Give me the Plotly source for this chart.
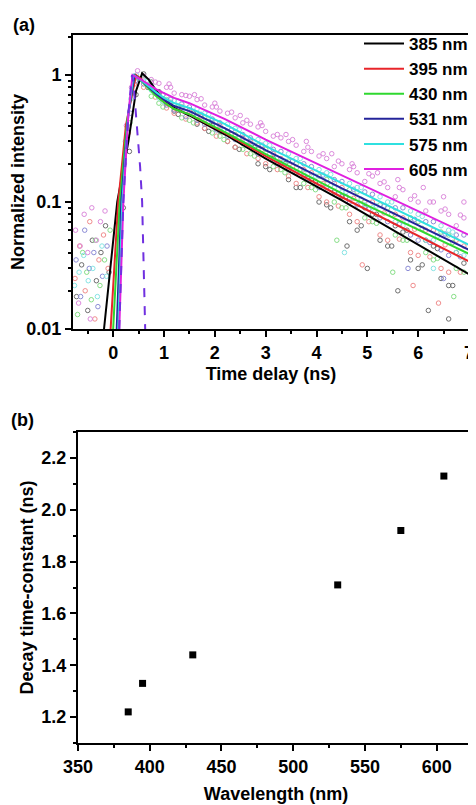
import plotly.graph_objects as go

# ---- panel (a): fitted decay curves ----
names = ['385 nm', '395 nm', '430 nm', '531 nm', '575 nm', '605 nm']
line_colors = ['#000000', '#E8252A', '#2FD82F', '#24249A', '#2FE0E0', '#E020E0']
dot_colors = ['#6E6E6E', '#F08C8C', '#86DE86', '#8C8CD6', '#86E4E4', '#DC8ADC']

fit_t = [
    [-0.18, 0.08, 0.3, 0.45, 0.57, 0.7, 0.85, 1.0, 1.2, 1.5, 2.2, 3.0, 4.5, 7.0],
    [-0.05, 0.1, 0.25, 0.45, 0.55, 0.7, 0.85, 1.0, 1.2, 1.5, 2.2, 3.0, 4.5, 7.0],
    [0.0, 0.13, 0.28, 0.42, 0.55, 0.7, 0.85, 1.0, 1.2, 1.5, 2.2, 3.0, 4.5, 7.0],
    [0.07, 0.16, 0.3, 0.42, 0.55, 0.7, 0.85, 1.0, 1.2, 1.5, 2.2, 3.0, 4.5, 7.0],
    [0.1, 0.18, 0.3, 0.4, 0.55, 0.7, 0.85, 1.0, 1.2, 1.5, 2.2, 3.0, 4.5, 7.0],
    [0.12, 0.2, 0.3, 0.38, 0.55, 0.7, 0.85, 1.0, 1.2, 1.5, 2.2, 3.0, 4.5, 7.0],
]
fit_v = [
    [0.01, 0.1, 0.3, 0.75, 1.03, 0.92, 0.75, 0.64, 0.55, 0.48, 0.34, 0.22, 0.103, 0.027],
    [0.01, 0.1, 0.4, 1.0, 0.93, 0.8, 0.69, 0.61, 0.54, 0.49, 0.35, 0.23, 0.109, 0.034],
    [0.01, 0.1, 0.45, 1.0, 0.9, 0.78, 0.68, 0.61, 0.54, 0.49, 0.355, 0.238, 0.117, 0.039],
    [0.01, 0.1, 0.5, 1.0, 0.91, 0.8, 0.71, 0.64, 0.57, 0.52, 0.38, 0.256, 0.128, 0.042],
    [0.01, 0.1, 0.5, 1.0, 0.91, 0.81, 0.73, 0.66, 0.6, 0.55, 0.41, 0.275, 0.14, 0.046],
    [0.01, 0.1, 0.5, 1.0, 0.92, 0.84, 0.77, 0.72, 0.66, 0.6, 0.45, 0.31, 0.162, 0.055],
]

# instrument response (dashed)
irf_t = [0.12, 0.2, 0.3, 0.37, 0.4, 0.47, 0.53, 0.57, 0.63]
irf_v = [0.01, 0.1, 0.5, 1.0, 0.86, 0.4, 0.19, 0.1, 0.01]

# measured points (hand-read sample of the noisy data)
# sampling times of the decay part
grid_a = [0.6, 0.9, 1.2, 1.5, 1.8, 2.1, 2.4, 2.7, 3.0, 3.3, 3.6, 3.9, 4.2, 4.5, 4.8, 5.1, 5.4, 5.7,
          6.0, 6.3, 6.6, 6.9]
grid_b = [0.75, 1.05, 1.35, 1.65, 1.95, 2.25, 2.55, 2.85, 3.15, 3.45, 3.75, 4.05, 4.35, 4.65, 4.95,
          5.25, 5.55, 5.85, 6.15, 6.45, 6.75]
grid_c1 = [0.68, 0.98, 1.28, 1.58, 1.88, 2.18, 2.48, 2.78, 3.08, 3.38, 3.68, 3.98, 4.28, 4.58, 4.88,
           5.18, 5.48, 5.78, 6.08, 6.38, 6.68]
grid_c2 = [0.83, 1.13, 1.43, 1.73, 2.03, 2.33, 2.63, 2.93, 3.23, 3.53, 3.83, 4.13, 4.43, 4.73, 5.03,
           5.33, 5.63, 5.93, 6.23, 6.53, 6.83]

dots_a = [
    [1.02, 0.74, 0.52, 0.5, 0.38, 0.36, 0.27, 0.27, 0.19, 0.2, 0.13, 0.15, 0.095, 0.11, 0.06, 0.08, 0.045,
     0.058, 0.03, 0.045, 0.022, 0.033],
    [0.8, 0.7, 0.5, 0.53, 0.38, 0.4, 0.27, 0.3, 0.2, 0.22, 0.14, 0.17, 0.1, 0.13, 0.07, 0.1, 0.05, 0.075,
     0.038, 0.06, 0.028, 0.045],
    [0.92, 0.6, 0.58, 0.44, 0.46, 0.33, 0.34, 0.24, 0.26, 0.18, 0.2, 0.13, 0.15, 0.09, 0.12, 0.07, 0.09,
     0.05, 0.07, 0.035, 0.055, 0.028],
    [0.85, 0.72, 0.53, 0.56, 0.41, 0.42, 0.31, 0.32, 0.23, 0.25, 0.17, 0.19, 0.13, 0.145, 0.095, 0.115,
     0.07, 0.09, 0.05, 0.07, 0.038, 0.055],
    [0.96, 0.66, 0.63, 0.5, 0.5, 0.38, 0.38, 0.29, 0.29, 0.21, 0.22, 0.16, 0.17, 0.12, 0.13, 0.09, 0.1,
     0.065, 0.08, 0.05, 0.06, 0.038],
    [0.98, 0.86, 0.72, 0.68, 0.58, 0.52, 0.46, 0.41, 0.36, 0.32, 0.28, 0.25, 0.22, 0.2, 0.17, 0.16, 0.13,
     0.125, 0.1, 0.1, 0.08, 0.075],
]
dots_b = [
    [0.88, 0.6, 0.55, 0.41, 0.4, 0.3, 0.29, 0.2, 0.22, 0.15, 0.16, 0.1, 0.12, 0.07, 0.09, 0.05, 0.065,
     0.035, 0.05, 0.025, 0.04],
    [0.8, 0.55, 0.56, 0.42, 0.42, 0.3, 0.32, 0.22, 0.24, 0.16, 0.18, 0.11, 0.14, 0.08, 0.1, 0.055, 0.08,
     0.04, 0.06, 0.03, 0.05],
    [0.68, 0.64, 0.46, 0.48, 0.35, 0.36, 0.26, 0.28, 0.19, 0.21, 0.14, 0.16, 0.1, 0.125, 0.075, 0.095,
     0.055, 0.075, 0.04, 0.058, 0.03],
    [0.82, 0.58, 0.59, 0.44, 0.45, 0.33, 0.34, 0.24, 0.26, 0.18, 0.2, 0.13, 0.15, 0.1, 0.12, 0.075, 0.09,
     0.055, 0.07, 0.042, 0.055],
    [0.76, 0.68, 0.54, 0.54, 0.42, 0.41, 0.31, 0.31, 0.23, 0.24, 0.17, 0.18, 0.13, 0.14, 0.095, 0.11, 0.07,
     0.085, 0.05, 0.065, 0.04],
    [0.92, 0.8, 0.7, 0.64, 0.56, 0.5, 0.42, 0.39, 0.33, 0.3, 0.25, 0.23, 0.19, 0.18, 0.145, 0.14, 0.11,
     0.105, 0.085, 0.085, 0.065],
]
# third sample: 385/430/575 nm on grid_c1, 395/531/605 nm on grid_c2
dots_c = [
    [0.8, 0.7, 0.49, 0.5, 0.36, 0.37, 0.26, 0.27, 0.18, 0.2, 0.13, 0.145, 0.09, 0.11, 0.065, 0.08, 0.045,
     0.06, 0.032, 0.043, 0.022],
    [0.67, 0.61, 0.45, 0.47, 0.33, 0.34, 0.24, 0.26, 0.18, 0.19, 0.13, 0.14, 0.093, 0.107, 0.07, 0.082,
     0.051, 0.061, 0.037, 0.046, 0.028],
    [0.84, 0.56, 0.55, 0.42, 0.43, 0.31, 0.32, 0.23, 0.24, 0.17, 0.18, 0.125, 0.135, 0.09, 0.105, 0.068,
     0.08, 0.05, 0.062, 0.036, 0.048],
    [0.73, 0.64, 0.47, 0.49, 0.37, 0.37, 0.28, 0.28, 0.2, 0.21, 0.153, 0.163, 0.116, 0.126, 0.088, 0.093,
     0.067, 0.073, 0.048, 0.056, 0.037],
    [0.9, 0.62, 0.62, 0.49, 0.49, 0.37, 0.37, 0.28, 0.28, 0.21, 0.22, 0.16, 0.165, 0.12, 0.13, 0.093, 0.1,
     0.07, 0.077, 0.054, 0.058],
    [0.88, 0.8, 0.69, 0.65, 0.56, 0.51, 0.44, 0.4, 0.34, 0.31, 0.27, 0.24, 0.21, 0.19, 0.167, 0.144, 0.13,
     0.112, 0.1, 0.088, 0.079],
]
# background before time zero, points on the rising edge and stray low/high points
extra_t = [
    [-0.72, -0.62, -0.5, -0.41, -0.33, -0.24, -0.15, -0.08, 0.2, 0.32, 0.45, 4.6, 5.0, 5.6, 6.2, 6.6],
    [-0.75, -0.66, -0.55, -0.46, -0.36, -0.28, -0.19, -0.1, 0.15, 0.3, 0.42, 4.9, 5.9, 6.4],
    [-0.7, -0.6, -0.52, -0.43, -0.35, -0.26, -0.17, -0.06, 0.18, 0.33, 0.47, 4.4, 5.5, 6.7],
    [-0.73, -0.64, -0.56, -0.47, -0.38, -0.3, -0.21, -0.12, 0.22, 0.34, 0.44, 5.8, 6.5],
    [-0.76, -0.67, -0.58, -0.49, -0.4, -0.31, -0.22, -0.13, 0.24, 0.35, 0.46, 4.55, 6.3],
    [-0.74, -0.65, -0.57, -0.5, -0.42, -0.33, -0.25, -0.16, -0.45, -0.68, 0.26, 0.36, 0.48,
     1.1, 1.6, 2.0, 2.5, 2.9, 3.4, 3.8, 4.3, 4.7, 5.2, 5.6, 6.1, 6.5, 6.9],
]
extra_v = [
    [0.018, 0.032, 0.014, 0.05, 0.024, 0.04, 0.065, 0.028, 0.09, 0.25, 0.7, 0.045, 0.03, 0.02, 0.014, 0.012],
    [0.025, 0.045, 0.02, 0.07, 0.012, 0.035, 0.055, 0.03, 0.08, 0.35, 0.85, 0.032, 0.022, 0.016],
    [0.013, 0.04, 0.028, 0.017, 0.05, 0.022, 0.035, 0.06, 0.12, 0.42, 0.95, 0.05, 0.028, 0.018],
    [0.035, 0.018, 0.06, 0.03, 0.04, 0.015, 0.026, 0.045, 0.2, 0.5, 0.9, 0.03, 0.025],
    [0.022, 0.028, 0.038, 0.024, 0.03, 0.018, 0.045, 0.026, 0.3, 0.65, 1.0, 0.04, 0.03],
    [0.06, 0.045, 0.08, 0.04, 0.09, 0.05, 0.07, 0.085, 0.012, 0.016, 0.4, 0.8, 1.08,
     0.85, 0.7, 0.6, 0.48, 0.42, 0.34, 0.3, 0.24, 0.2, 0.17, 0.15, 0.13, 0.11, 0.1],
]

# ---- panel (b): decay time constants ----
wavelength = [385, 395, 430, 531, 575, 605]
tau = [1.22, 1.33, 1.44, 1.71, 1.92, 2.13]

# tick labels
ticks_a_x = [0, 1, 2, 3, 4, 5, 6, 7]
ticks_a_y = [0.01, 0.1, 1]
ticks_b_x = [350, 400, 450, 500, 550, 600]
ticks_b_y = [1.2, 1.4, 1.6, 1.8, 2.0, 2.2]


def bold(vals, fmt='{}'):
    return ['<b>' + fmt.format(v) + '</b>' for v in vals]


fig = go.Figure()

for i in range(len(names)):
    grid_c = grid_c1 if i % 2 == 0 else grid_c2
    xs = extra_t[i] + grid_a + grid_b + grid_c
    ys = extra_v[i] + dots_a[i] + dots_b[i] + dots_c[i]
    fig.add_trace(go.Scatter(x=xs, y=ys, mode='markers', showlegend=False,
                             marker=dict(symbol='circle-open', size=4.5, color=dot_colors[i],
                                         line=dict(width=1, color=dot_colors[i])),
                             xaxis='x', yaxis='y'))

for i in range(len(names)):
    fig.add_trace(go.Scatter(x=fit_t[i], y=fit_v[i], mode='lines', name='<b>' + names[i] + '</b>',
                             line=dict(color=line_colors[i], width=2), xaxis='x', yaxis='y'))

fig.add_trace(go.Scatter(x=irf_t, y=irf_v, mode='lines', showlegend=False,
                         line=dict(color='#7030E0', width=2, dash='dash'), xaxis='x', yaxis='y'))

fig.add_trace(go.Scatter(x=wavelength, y=tau, mode='markers', showlegend=False,
                         marker=dict(symbol='square', size=7, color='black'),
                         xaxis='x2', yaxis='y2'))

# the page puts the figure 8px in from the top-left corner
OFF = 8
W, H = 476 - OFF, 805 - OFF


def px_x(x):
    return (x - OFF) / W


def px_y(y):
    return 1 - (y - OFF) / H


FONT = 'Liberation Sans'
tickfont = dict(family=FONT, size=18, color='black')
titlefont = dict(family=FONT, size=18, color='black')
minor_style = dict(ticks='outside', ticklen=3, tickwidth=2, tickcolor='black')
axis_common = dict(showline=True, linewidth=2, linecolor='black', mirror=True,
                   ticks='outside', ticklen=6, tickwidth=2, tickcolor='black',
                   showgrid=False, zeroline=False, tickfont=tickfont, automargin=False)

fig.update_layout(
    width=W, height=H,
    margin=dict(l=0, r=0, t=0, b=0),
    paper_bgcolor='white', plot_bgcolor='white',
    xaxis=dict(domain=[px_x(73), px_x(469)], anchor='y', range=[-0.79, 7],
               tickvals=ticks_a_x, ticktext=bold(ticks_a_x),
               minor=dict(dtick=0.5, **minor_style),
               title=dict(text='<b>Time delay (ns)</b>', font=titlefont, standoff=6), **axis_common),
    yaxis=dict(domain=[px_y(329), px_y(35)], anchor='x', type='log', range=[-2, 0.315],
               tickvals=ticks_a_y, ticktext=bold(ticks_a_y),
               minor=dict(tickvals=[0.02, 0.03, 0.04, 0.05, 0.06, 0.07, 0.08, 0.09,
                                    0.2, 0.3, 0.4, 0.5, 0.6, 0.7, 0.8, 0.9, 2], **minor_style),
               title=dict(text='<b>Normalized intensity</b>', font=titlefont, standoff=2), **axis_common),
    xaxis2=dict(domain=[px_x(78), px_x(474)], anchor='y2', range=[350, 626],
                tickvals=ticks_b_x, ticktext=bold(ticks_b_x),
                minor=dict(dtick=25, **minor_style),
                title=dict(text='<b>Wavelength (nm)</b>', font=titlefont, standoff=12), **axis_common),
    yaxis2=dict(domain=[px_y(743), px_y(432)], anchor='x2', range=[1.1, 2.3],
                tickvals=ticks_b_y, ticktext=bold(ticks_b_y, '{:.1f}'),
                minor=dict(tick0=1.1, dtick=0.1, **minor_style),
                title=dict(text='<b>Decay time-constant (ns)</b>', font=titlefont, standoff=3), **axis_common),
    legend=dict(x=px_x(473), xanchor='right', y=px_y(26), yanchor='top', bgcolor='rgba(0,0,0,0)',
                font=dict(family=FONT, size=17, color='black'),
                itemwidth=40, tracegroupgap=0),
    annotations=[
        dict(text='<b>(a)</b>', x=px_x(24), y=px_y(25), xref='paper', yref='paper', showarrow=False,
             xanchor='center', yanchor='middle', font=dict(family=FONT, size=18, color='black')),
        dict(text='<b>(b)</b>', x=px_x(22), y=px_y(420), xref='paper', yref='paper', showarrow=False,
             xanchor='center', yanchor='middle', font=dict(family=FONT, size=18, color='black')),
    ],
)

fig.write_html('out.html')
